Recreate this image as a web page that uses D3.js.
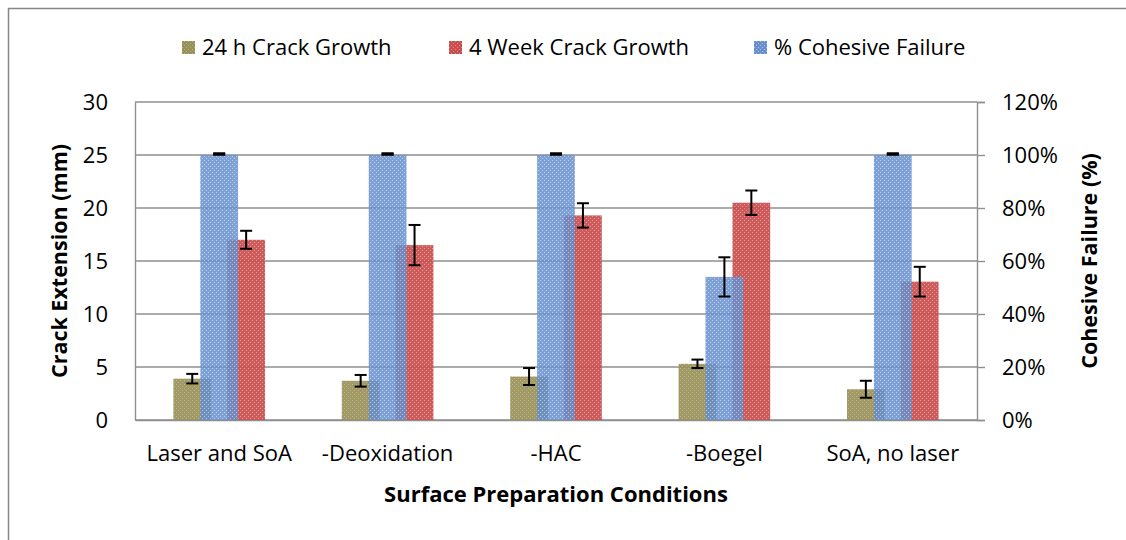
<!DOCTYPE html>
<html>
<head>
<meta charset="utf-8">
<script src="https://cdn.jsdelivr.net/npm/d3@7"></script>
<style>
  html, body { margin: 0; background: #fff; overflow: hidden; }
  svg { display: block; }
  text { font-family: "Open Sans", Lato, sans-serif; fill: #000; }
</style>
</head>
<body>
<div id="chart"></div>
<script>
// values
var categories = ["Laser and SoA", "-Deoxidation", "-HAC", "-Boegel", "SoA, no laser"];
var crack24h = [3.9, 3.7, 4.1, 5.3, 2.9];
var crack24hErr = [0.45, 0.55, 0.8, 0.4, 0.8];
var crack4wk = [17.0, 16.5, 19.3, 20.5, 13.05];
var crack4wkErr = [0.85, 1.9, 1.15, 1.15, 1.4];
var cohesive = [100, 100, 100, 54, 100];
var cohesiveErr = [0, 0, 0, 7.4, 0];
var leftTicks = [0, 5, 10, 15, 20, 25, 30];
var rightTicks = [0, 20, 40, 60, 80, 100, 120];
var legendNames = ["24 h Crack Growth", "4 Week Crack Growth", "% Cohesive Failure"];

var width = 1126, height = 540;
var plotL = 135, plotR = 977, plotT = 102, plotB = 420;
var fontSize = 22;

var colors = { olive: "#99915a", red: "#c94f4e", blue: "#6890cc" };

var svg = d3.select("#chart").append("svg")
    .attr("width", width)
    .attr("height", height);

// little checker textures like the excel fill
var defs = svg.append("defs");
function makePattern(id, base, light) {
    var p = defs.append("pattern")
        .attr("id", id)
        .attr("width", 4).attr("height", 4)
        .attr("patternUnits", "userSpaceOnUse");
    p.append("rect").attr("width", 4).attr("height", 4).attr("fill", base);
    p.append("rect").attr("x", 0).attr("y", 0).attr("width", 1).attr("height", 1).attr("fill", light);
    p.append("rect").attr("x", 2).attr("y", 2).attr("width", 1).attr("height", 1).attr("fill", light);
}
makePattern("pOlive", colors.olive, "#b5ae80");
makePattern("pRed", colors.red, "#e28a89");
makePattern("pBlue", colors.blue, "#a6c2ec");

// outer frame, only the left and top edges are inside the picture
svg.append("path")
    .attr("d", "M8.5," + height + "V8.5H" + width)
    .attr("fill", "none")
    .attr("stroke", "#868686")
    .attr("stroke-width", 1.5);

var x0 = d3.scaleBand().domain(categories).range([plotL, plotR]);
var bw = x0.bandwidth();
var xSub = d3.scaleBand().domain(["h24", "wk4"])
    .range([-0.272 * bw, 0.272 * bw])
    .paddingInner(0.3);
var barW = xSub.bandwidth();

var yL = d3.scaleLinear().domain([0, 30]).range([plotB, plotT]);
var yR = d3.scaleLinear().domain([0, 120]).range([plotB, plotT]);

// gridlines
svg.append("g")
    .selectAll("line")
    .data(leftTicks)
    .enter().append("line")
    .attr("x1", plotL).attr("x2", plotR)
    .attr("y1", function(d) { return yL(d); })
    .attr("y2", function(d) { return yL(d); })
    .attr("stroke", "#8f8f8f")
    .attr("stroke-width", 1.4);

// left axis
var axL = svg.append("g")
    .attr("transform", "translate(" + plotL + ",0)")
    .call(d3.axisLeft(yL).tickValues(leftTicks).tickSize(0).tickPadding(27));
axL.select(".domain").attr("stroke", "#8f8f8f").attr("stroke-width", 1.4);
axL.selectAll("text").attr("font-size", fontSize).attr("fill", "#000");

// right axis
var axR = svg.append("g")
    .attr("transform", "translate(" + plotR + ",0)")
    .call(d3.axisRight(yR).tickValues(rightTicks).tickSize(8).tickPadding(17)
        .tickFormat(function(d) { return d + "%"; }));
axR.select(".domain").attr("stroke", "#8f8f8f").attr("stroke-width", 1.4);
axR.selectAll("line").attr("stroke", "#8f8f8f").attr("stroke-width", 1.4);
axR.selectAll("text").attr("font-size", fontSize).attr("fill", "#000");

// bottom axis line + category labels
var axB = svg.append("g")
    .attr("transform", "translate(0," + plotB + ")")
    .call(d3.axisBottom(x0).tickSize(0).tickPadding(25));
axB.select(".domain").attr("stroke", "#8f8f8f").attr("stroke-width", 1.4);
axB.selectAll("text").attr("font-size", fontSize).attr("fill", "#000");

var rows = categories.map(function(c, i) {
    return { cat: c, h24: crack24h[i], h24e: crack24hErr[i], wk4: crack4wk[i], wk4e: crack4wkErr[i],
             coh: cohesive[i], cohe: cohesiveErr[i] };
});

function bars(key, fill, scale, xpos, op) {
    svg.append("g").selectAll("rect")
        .data(rows)
        .enter().append("rect")
        .attr("x", function(d) { return xpos(d) - barW / 2; })
        .attr("width", barW)
        .attr("y", function(d) { return scale(d[key]); })
        .attr("height", function(d) { return plotB - scale(d[key]); })
        .attr("fill", fill)
        .attr("fill-opacity", op);
}
function errs(key, ekey, scale, xpos) {
    var g = svg.append("g").selectAll("g")
        .data(rows)
        .enter().append("g")
        .attr("stroke", "#000")
        .attr("stroke-width", 2);
    g.append("line")
        .attr("x1", xpos).attr("x2", xpos)
        .attr("y1", function(d) { return scale(d[key] + d[ekey]); })
        .attr("y2", function(d) { return scale(d[key] - d[ekey]); });
    [1, -1].forEach(function(s) {
        g.append("line")
            .attr("x1", function(d) { return xpos(d) - 6; })
            .attr("x2", function(d) { return xpos(d) + 6; })
            .attr("y1", function(d) { return scale(d[key] + s * d[ekey]) + (d[ekey] ? 0 : -1); })
            .attr("y2", function(d) { return scale(d[key] + s * d[ekey]) + (d[ekey] ? 0 : -1); })
            .attr("stroke-width", function(d) { return d[ekey] ? 2 : 3; });
    });
}

var xH24 = function(d) { return x0(d.cat) + bw / 2 + xSub("h24") + barW / 2; };
var xWk4 = function(d) { return x0(d.cat) + bw / 2 + xSub("wk4") + barW / 2; };
var xCoh = function(d) { return x0(d.cat) + bw / 2; };

bars("h24", "url(#pOlive)", yL, xH24, 0.92);
bars("wk4", "url(#pRed)", yL, xWk4, 0.92);
errs("h24", "h24e", yL, xH24);
errs("wk4", "wk4e", yL, xWk4);
bars("coh", "url(#pBlue)", yR, xCoh, 0.85);
errs("coh", "cohe", yR, xCoh);

// axis titles
svg.append("text")
    .attr("transform", "translate(67," + (plotT + plotB) / 2 + ") rotate(-90)")
    .attr("text-anchor", "middle")
    .attr("font-size", fontSize - 0.5).attr("font-weight", "bold")
    .text("Crack Extension (mm)");
svg.append("text")
    .attr("transform", "translate(1097," + (plotT + plotB) / 2 + ") rotate(-90)")
    .attr("text-anchor", "middle")
    .attr("font-size", fontSize - 0.5).attr("font-weight", "bold")
    .text("Cohesive Failure (%)");
svg.append("text")
    .attr("x", (plotL + plotR) / 2)
    .attr("y", 502)
    .attr("text-anchor", "middle")
    .attr("font-size", fontSize).attr("font-weight", "bold")
    .text("Surface Preparation Conditions");

// legend
var legendX = [182, 449, 754];
var legendFill = ["url(#pOlive)", "url(#pRed)", "url(#pBlue)"];
var lg = svg.append("g").selectAll("g")
    .data(legendNames)
    .enter().append("g")
    .attr("transform", function(d, i) { return "translate(" + legendX[i] + ",47)"; });
lg.append("rect")
    .attr("x", 0).attr("y", -6)
    .attr("width", 13).attr("height", 13)
    .attr("fill", function(d, i) { return legendFill[i]; });
lg.append("text")
    .attr("x", 20).attr("y", 0)
    .attr("dy", "0.35em")
    .attr("font-size", fontSize)
    .text(function(d) { return d; });
</script>
</body>
</html>
